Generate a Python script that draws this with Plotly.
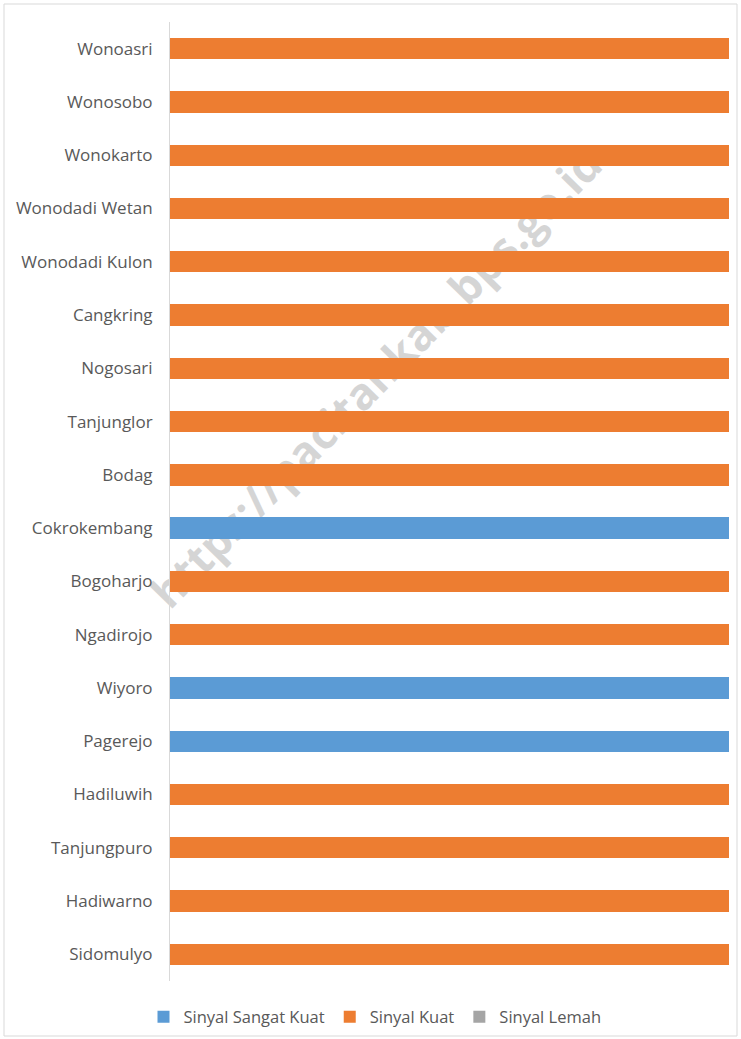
import plotly.graph_objects as go

villages = ["Sidomulyo", "Hadiwarno", "Tanjungpuro", "Hadiluwih", "Pagerejo", "Wiyoro",
            "Ngadirojo", "Bogoharjo", "Cokrokembang", "Bodag", "Tanjunglor", "Nogosari",
            "Cangkring", "Wonodadi Kulon", "Wonodadi Wetan", "Wonokarto", "Wonosobo", "Wonoasri"]
sangat_kuat = [0, 0, 0, 0, 100, 100, 0, 0, 100, 0, 0, 0, 0, 0, 0, 0, 0, 0]
kuat = [100, 100, 100, 100, 0, 0, 100, 100, 0, 100, 100, 100, 100, 100, 100, 100, 100, 100]
lemah = [0] * 18

series = [("Sinyal Sangat Kuat", sangat_kuat, "#5B9BD5"),
          ("Sinyal Kuat", kuat, "#ED7D31"),
          ("Sinyal Lemah", lemah, "#A5A5A5")]

fig = go.Figure()
for name, vals, col in series:
    fig.add_trace(go.Bar(y=villages, x=vals, name=name, orientation="h",
                         marker=dict(color=col, line=dict(width=0))))

W, H = 741, 1039
ml, mr, mt, mb = 170, 12, 22, 58
pw, ph = W - ml - mr, H - mt - mb


def px(x):
    return (x - ml) / pw


def py(y):
    return 1 - (y - mt) / ph


fig.update_layout(
    width=W, height=H, barmode="stack", bargap=0.6,
    margin=dict(l=ml, r=mr, t=mt, b=mb),
    paper_bgcolor="white", plot_bgcolor="white",
    font=dict(family="Open Sans", size=17, color="#595959"),
    xaxis=dict(range=[0, 100], showticklabels=False, showgrid=False, zeroline=False,
               showline=False, fixedrange=True),
    yaxis=dict(showline=True, linecolor="#D9D9D9", linewidth=1, ticks="",
               ticklabelstandoff=13, showgrid=False, categoryorder="array",
               categoryarray=villages, fixedrange=True),
    legend=dict(orientation="h", x=375 / W, xanchor="center",
                xref="container", y=1 - 1017 / H, yref="container", yanchor="middle",
                font=dict(size=16.5, color="#595959"), itemwidth=30,
                traceorder="normal"),
    showlegend=True,
)

# chart border
fig.add_shape(type="rect", xref="paper", yref="paper",
              x0=px(4), x1=px(737), y0=py(1036), y1=py(4),
              line=dict(color="#D9D9D9", width=1), fillcolor="rgba(0,0,0,0)", layer="below")

# watermark (behind bars)
fig.add_shape(type="line", xref="paper", yref="paper",
              x0=px(172), y0=py(636), x1=px(630), y1=py(169),
              line=dict(width=0, color="rgba(0,0,0,0)"), layer="below",
              label=dict(text="<b>https://pacitankab.bps.go.id</b>", textposition="middle",
                         font=dict(family="Open Sans", size=44,
                                   color="rgba(200,200,200,0.75)")))

fig.write_html("out.html", config={"displayModeBar": False},
               post_script="document.body.style.margin='0';")
